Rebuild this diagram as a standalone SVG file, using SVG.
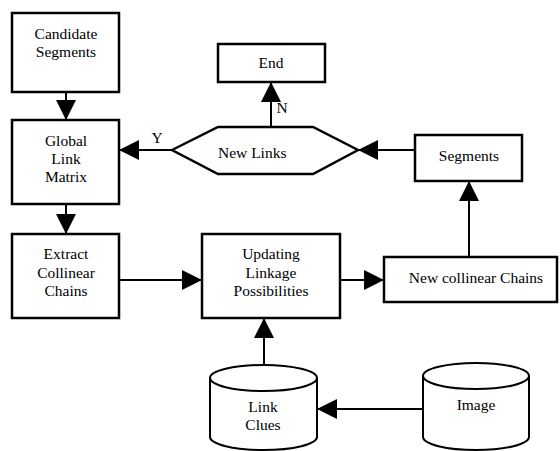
<svg xmlns="http://www.w3.org/2000/svg" width="560" height="451" viewBox="0 0 560 451" font-family="'Liberation Serif', 'Times New Roman', 'DejaVu Serif', serif" font-size="15.5">
<defs>
<style>
.box{fill:#fff;stroke:#000;stroke-width:2.5}
.cyl{fill:#fff;stroke:#000;stroke-width:2}
.ln{fill:none;stroke:#000;stroke-width:2}
.t{font-family:'Liberation Serif','Times New Roman','DejaVu Serif',serif;font-size:15.5px;fill:#000;text-anchor:middle}
</style>
<marker id="ah" markerUnits="userSpaceOnUse" markerWidth="20" markerHeight="20" refX="20" refY="10" orient="auto" viewBox="0 0 20 20">
<path d="M0,0 L20,10 L0,20 z" fill="#000"/>
</marker>
</defs>
<rect width="560" height="451" fill="#fff"/>
<g id="connectors">
<line class="ln" x1="66" y1="92" x2="66" y2="120" marker-end="url(#ah)"/>
<line class="ln" x1="66" y1="204" x2="66" y2="234" marker-end="url(#ah)"/>
<line class="ln" x1="119" y1="280" x2="202" y2="280" marker-end="url(#ah)"/>
<line class="ln" x1="340" y1="280" x2="384" y2="280" marker-end="url(#ah)"/>
<line class="ln" x1="469" y1="257" x2="469" y2="181" marker-end="url(#ah)"/>
<line class="ln" x1="415" y1="150" x2="358" y2="150" marker-end="url(#ah)"/>
<line class="ln" x1="172" y1="150" x2="119" y2="150" marker-end="url(#ah)"/>
<line class="ln" x1="271" y1="127" x2="271" y2="82" marker-end="url(#ah)"/>
<line class="ln" x1="264" y1="378" x2="264" y2="318" marker-end="url(#ah)"/>
<line class="ln" x1="423" y1="409" x2="317" y2="409" marker-end="url(#ah)"/>
<text class="t" x="157" y="143">Y</text>
<text class="t" x="282" y="113">N</text>
</g>
<g id="candidate">
<rect class="box" x="12" y="13" width="107" height="79"/>
<text class="t" x="66" y="39">Candidate</text>
<text class="t" x="66" y="57">Segments</text>
</g>
<g id="global">
<rect class="box" x="12" y="120" width="107" height="84"/>
<text class="t" x="66" y="146">Global</text>
<text class="t" x="66" y="164">Link</text>
<text class="t" x="66" y="182">Matrix</text>
</g>
<g id="extract">
<rect class="box" x="12" y="234" width="107" height="84"/>
<text class="t" x="66" y="259">Extract</text>
<text class="t" x="66" y="278">Collinear</text>
<text class="t" x="66" y="296">Chains</text>
</g>
<g id="updating">
<rect class="box" x="202" y="234" width="138" height="84"/>
<text class="t" x="271" y="259">Updating</text>
<text class="t" x="271" y="278">Linkage</text>
<text class="t" x="271" y="296">Possibilities</text>
</g>
<g id="newchains">
<rect class="box" x="384" y="257" width="173" height="45"/>
<text class="t" x="476" y="283">New collinear Chains</text>
</g>
<g id="segments">
<rect class="box" x="415" y="135" width="107" height="46"/>
<text class="t" x="469" y="161">Segments</text>
</g>
<g id="newlinks">
<polygon class="box" points="172,150 218,127 313,127 358,150 313,174 218,174"/>
<text class="t" x="218" y="158" style="text-anchor:start">New Links</text>
</g>
<g id="end">
<rect class="box" x="218" y="44" width="107" height="38"/>
<text class="t" x="271" y="68">End</text>
</g>
<g id="linkclues">
<path class="cyl" d="M210,378 V437 A53.5,13 0 0 0 317,437 V378 A53.5,13 0 0 0 210,378 Z"/>
<path class="cyl" d="M210,378 A53.5,13 0 0 0 317,378"/>
<text class="t" x="263" y="412">Link</text>
<text class="t" x="263" y="430">Clues</text>
</g>
<g id="image">
<path class="cyl" d="M423,376 V437 A53,13 0 0 0 529,437 V376 A53,13 0 0 0 423,376 Z"/>
<path class="cyl" d="M423,376 A53,13 0 0 0 529,376"/>
<text class="t" x="476" y="410">Image</text>
</g>
</svg>
